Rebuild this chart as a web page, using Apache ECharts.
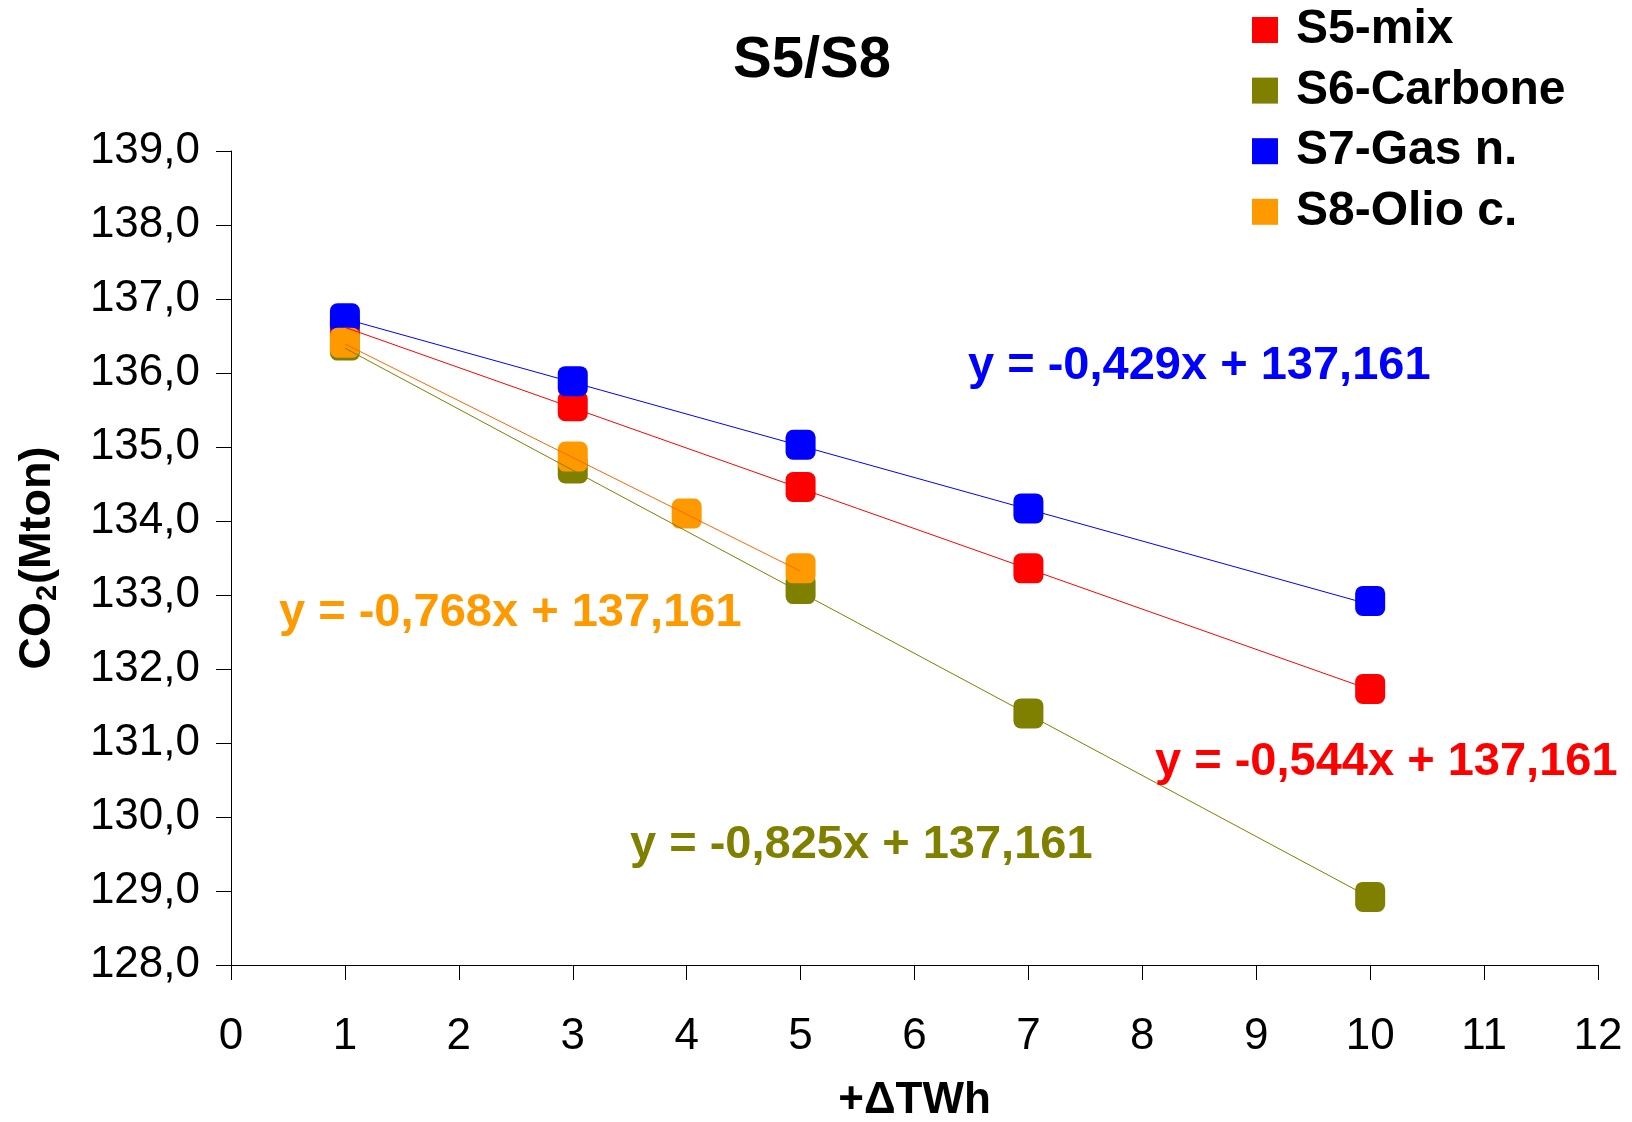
<!DOCTYPE html>
<html>
<head>
<meta charset="utf-8">
<script src="https://cdn.jsdelivr.net/npm/echarts@6/dist/echarts.min.js"></script>
<style>
  html, body { margin: 0; padding: 0; background: #fff; }
  #chart { width: 1632px; height: 1122px; }
</style>
</head>
<body>
<div id="chart"></div>
<script>
// Scenario names and colours
const seriesNames = ['S5-mix', 'S6-Carbone', 'S7-Gas n.', 'S8-Olio c.'];
const markerColors = ['#FF0000', '#808000', '#0000FF', '#FF9900'];
const lineColors = ['#FF0000', '#808000', '#0000FF', '#FF6600'];

// Additional energy (+ΔTWh) per scenario
const xMix = [1, 3, 5, 7, 10];
const xCarbone = [1, 3, 5, 7, 10];
const xGas = [1, 3, 5, 7, 10];
const xOil = [1, 3, 4, 5];

// CO2 emissions (Mton)
const yMix = [136.60, 135.55, 134.46, 133.36, 131.73];
const yCarbone = [136.37, 134.71, 133.08, 131.40, 128.92];
const yGas = [136.74, 135.89, 135.03, 134.17, 132.92];
const yOil = [136.41, 134.87, 134.10, 133.36];

// Linear trend: y = slope * x + intercept
const slopes = [-0.544, -0.825, -0.429, -0.768];
const intercepts = [137.161, 137.161, 137.161, 137.161];

// Axis ticks
const xTicks = [0, 1, 2, 3, 4, 5, 6, 7, 8, 9, 10, 11, 12];
const yTicks = [128, 129, 130, 131, 132, 133, 134, 135, 136, 137, 138, 139];

const xs = [xMix, xCarbone, xGas, xOil];
const ys = [yMix, yCarbone, yGas, yOil];

const FONT = '"Liberation Sans", Arial, Helvetica, sans-serif';
const fmt = (v, d) => v.toFixed(d).replace('.', ',');

function equationText(i) {
  const s = slopes[i];
  const sign = s < 0 ? '-' : '';
  return 'y = ' + sign + fmt(Math.abs(s), 3) + 'x + ' + fmt(intercepts[i], 3);
}

// Equation label placement (pixels: left edge, vertical centre) and colours
const eqPlacement = [
  { left: 1155, cy: 760 },
  { left: 630, cy: 843 },
  { left: 968, cy: 364 },
  { left: 279, cy: 611 }
];
const eqColors = ['#FF0000', '#808000', '#0000FF', '#FF9900'];

const scatterSeries = seriesNames.map((name, i) => ({
  name: name,
  type: 'scatter',
  symbol: 'roundRect',
  symbolSize: 30,
  itemStyle: { color: markerColors[i], opacity: 1 },
  emphasis: { disabled: true },
  data: xs[i].map((x, k) => [x, ys[i][k]]),
  z: 2,
  silent: true
}));

const trendSeries = seriesNames.map((name, i) => {
  const x0 = Math.min.apply(null, xs[i]);
  const x1 = Math.max.apply(null, xs[i]);
  return {
    name: name + ' trend',
    type: 'line',
    symbol: 'none',
    lineStyle: { color: lineColors[i], width: 1 },
    data: [[x0, slopes[i] * x0 + intercepts[i]], [x1, slopes[i] * x1 + intercepts[i]]],
    z: 3,
    silent: true
  };
});

const chart = echarts.init(document.getElementById('chart'), null, { renderer: 'canvas' });

chart.setOption({
  animation: false,
  backgroundColor: '#fff',
  textStyle: { fontFamily: FONT },
  title: {
    text: 'S5/S8',
    left: 812,
    textAlign: 'center',
    top: 32,
    padding: 0,
    textStyle: { fontFamily: FONT, fontSize: 58, fontWeight: 'bold', color: '#000', lineHeight: 58 }
  },
  legend: {
    data: seriesNames,
    orient: 'vertical',
    left: 1252,
    top: 6,
    padding: 0,
    itemGap: 12.6,
    itemWidth: 26,
    itemHeight: 26,
    icon: 'rect',
    selectedMode: false,
    itemStyle: { opacity: 1 },
    textStyle: {
      fontFamily: FONT, fontSize: 48, fontWeight: 'bold', color: '#000',
      lineHeight: 48, padding: [0, 0, 0, 13]
    }
  },
  grid: { left: 231, right: 34, top: 151, bottom: 157, containLabel: false, outerBoundsMode: 'none' },
  xAxis: {
    type: 'value',
    min: xTicks[0],
    max: xTicks[xTicks.length - 1],
    interval: 1,
    name: '+ΔTWh',
    nameLocation: 'middle',
    nameGap: 114,
    nameMoveOverlap: false,
    nameTextStyle: { fontFamily: FONT, fontSize: 44, fontWeight: 'bold', color: '#000' },
    axisLine: { show: true, onZero: false, lineStyle: { color: '#000', width: 1 } },
    axisTick: { show: true, length: 15, lineStyle: { color: '#000', width: 1 } },
    axisLabel: { margin: 50, fontFamily: FONT, fontSize: 44, color: '#000' },
    splitLine: { show: false }
  },
  yAxis: {
    type: 'value',
    min: yTicks[0],
    max: yTicks[yTicks.length - 1],
    interval: 1,
    name: '{a|CO}{s|2}{a|(Mton)}',
    nameLocation: 'middle',
    nameGap: 165,
    nameMoveOverlap: false,
    nameRotate: 90,
    nameTextStyle: {
      fontFamily: FONT, fontWeight: 'bold', color: '#000',
      rich: {
        a: { fontFamily: FONT, fontSize: 45, fontWeight: 'bold', color: '#000', lineHeight: 56 },
        s: { fontFamily: FONT, fontSize: 29, fontWeight: 'bold', color: '#000', lineHeight: 56, padding: [20, 1, 0, 1] }
      }
    },
    axisLine: { show: true, onZero: false, lineStyle: { color: '#000', width: 1 } },
    axisTick: { show: true, length: 15, lineStyle: { color: '#000', width: 1 } },
    axisLabel: {
      margin: 31, fontFamily: FONT, fontSize: 44, color: '#000',
      formatter: v => fmt(v, 1)
    },
    splitLine: { show: false }
  },
  series: scatterSeries.concat(trendSeries),
  graphic: eqPlacement.map((p, i) => ({
    type: 'text',
    left: p.left,
    top: p.cy - 21,
    z: 10,
    silent: true,
    style: {
      text: equationText(i),
      fill: eqColors[i],
      font: 'bold 47px ' + FONT
    }
  }))
});
</script>
</body>
</html>
